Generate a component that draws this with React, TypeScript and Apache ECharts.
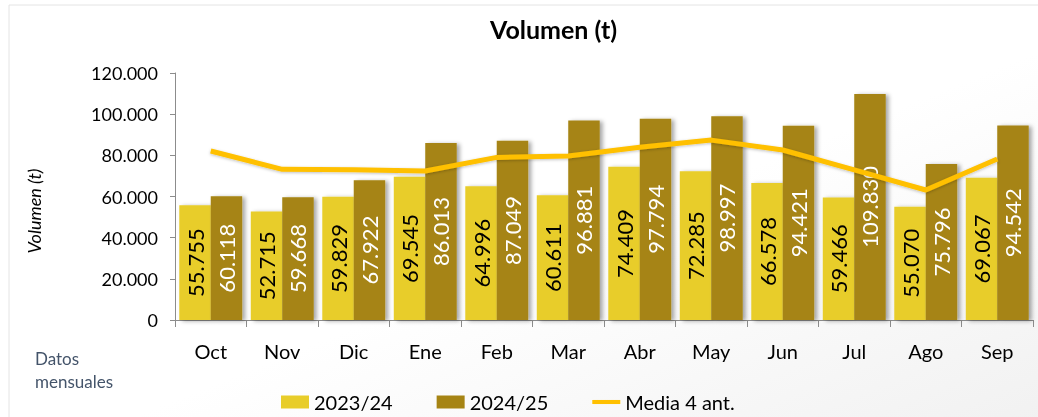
import React, { useEffect, useRef } from "react";
import * as echarts from "echarts";

const categories = ["Oct", "Nov", "Dic", "Ene", "Feb", "Mar", "Abr", "May", "Jun", "Jul", "Ago", "Sep"];
const serie2324 = [55755, 52715, 59829, 69545, 64996, 60611, 74409, 72285, 66578, 59466, 55070, 69067];
const serie2425 = [60118, 59668, 67922, 86013, 87049, 96881, 97794, 98997, 94421, 109830, 75796, 94542];
const media4ant = [82100, 73200, 73000, 72400, 79000, 79700, 83900, 87400, 82600, 72900, 63150, 78200];
const yTicks = { min: 0, max: 120000, interval: 20000 };

const fmt = (v: number) => String(Math.round(v)).replace(/\B(?=(\d{3})+(?!\d))/g, ".");

const FONT = "Lato";

export default function App() {
  const ref = useRef<HTMLDivElement>(null);
  useEffect(() => {
    document.body.style.margin = "0";
    const chart = echarts.init(ref.current!, undefined, { renderer: "svg" });
    const barShadow = {
      shadowColor: "rgba(0,0,0,0.35)",
      shadowBlur: 4,
      shadowOffsetX: 3,
      shadowOffsetY: 1,
    };
    chart.setOption({
      animation: false,
      textStyle: { fontFamily: FONT },
      graphic: [
        {
          type: "rect",
          shape: { x: 9, y: 5, width: 1040, height: 420 },
          style: {
            fill: new echarts.graphic.LinearGradient(0, 0, 1, 1, [
              { offset: 0, color: "#ffffff" },
              { offset: 0.55, color: "#ffffff" },
              { offset: 1, color: "#f1f1f1" },
            ]),
            stroke: "#e4e4e4",
            lineWidth: 1,
          },
          z: -10,
          silent: true,
        },
        {
          type: "text",
          x: 34,
          y: 211,
          rotation: Math.PI / 2,
          style: {
            text: "Volumen (t)",
            fontFamily: FONT,
            fontStyle: "italic",
            fontSize: 18,
            fill: "#000",
            textAlign: "center",
            textVerticalAlign: "middle",
          },
        },
        {
          type: "text",
          x: 35,
          y: 370,
          style: {
            text: "Datos\nmensuales",
            fontFamily: FONT,
            fontSize: 17,
            lineHeight: 23,
            fill: "#44546A",
            textAlign: "left",
            textVerticalAlign: "middle",
          },
        },
      ],
      title: {
        text: "Volumen (t)",
        left: 485,
        top: 11,
        textStyle: { fontFamily: FONT, fontWeight: "bold", fontSize: 25, color: "#000" },
      },
      legend: {
        left: 281,
        top: 392,
        padding: 0,
        itemWidth: 28,
        itemHeight: 13,
        itemGap: 44,
        textStyle: { fontFamily: FONT, fontSize: 20, color: "#000" },
        data: [
          { name: "2023/24", icon: "rect" },
          { name: "2024/25", icon: "rect" },
          { name: "Media 4 ant.", icon: "path://M0,0 H31 V4.5 H0 Z" },
        ],
      },
      grid: { left: 175, right: 5, top: 73, bottom: 97, containLabel: false },
      xAxis: {
        type: "category",
        data: categories,
        axisLine: { lineStyle: { color: "#8c8c8c", width: 1 } },
        axisTick: { show: true, length: 7, lineStyle: { color: "#8c8c8c" } },
        axisLabel: { fontFamily: FONT, fontSize: 20, color: "#000", margin: 21 },
      },
      yAxis: {
        type: "value",
        min: yTicks.min,
        max: yTicks.max,
        interval: yTicks.interval,
        splitLine: { show: false },
        axisLine: { show: true, lineStyle: { color: "#8c8c8c", width: 1 } },
        axisTick: { show: true, length: 5, lineStyle: { color: "#8c8c8c" } },
        axisLabel: { fontFamily: FONT, fontSize: 18, color: "#000", margin: 17, formatter: (v: number) => fmt(v) },
      },
      series: [
        {
          name: "2023/24",
          type: "bar",
          data: serie2324,
          barGap: "0%",
          barCategoryGap: "12%",
          itemStyle: { color: "#E8CD2A", ...barShadow },
          label: {
            show: true,
            position: "inside",
            rotate: 90,
            fontFamily: FONT,
            fontSize: 22,
            color: "#000",
            formatter: (p: any) => fmt(p.value),
          },
        },
        {
          name: "2024/25",
          type: "bar",
          data: serie2425,
          barGap: "0%",
          barCategoryGap: "12%",
          itemStyle: { color: "#A68414", ...barShadow },
          label: {
            show: true,
            position: "inside",
            rotate: 90,
            fontFamily: FONT,
            fontSize: 22,
            color: "#fff",
            formatter: (p: any) => fmt(p.value),
          },
        },
        {
          name: "Media 4 ant.",
          type: "line",
          data: media4ant,
          symbol: "none",
          z: 5,
          itemStyle: { color: "#FFC000" },
          lineStyle: { color: "#FFC000", width: 5, shadowColor: "rgba(0,0,0,0.25)", shadowBlur: 3, shadowOffsetY: 1 },
        },
      ],
    });
    return () => chart.dispose();
  }, []);
  return <div ref={ref} style={{ position: "fixed", left: 0, top: 0, width: 1038, height: 417 }} />;
}
